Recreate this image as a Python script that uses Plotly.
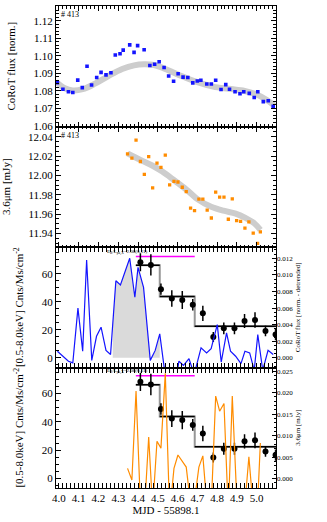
import plotly.graph_objects as go
from plotly.subplots import make_subplots

# panel 1: CoRoT optical light curve
corot_t = [3.992, 4.020, 4.048, 4.070, 4.095, 4.118, 4.142, 4.165, 4.191, 4.213, 4.238, 4.263,
           4.285, 4.309, 4.325, 4.358, 4.380, 4.398, 4.431, 4.460, 4.484, 4.507, 4.532, 4.555,
           4.580, 4.603, 4.628, 4.652, 4.677, 4.700, 4.718, 4.748, 4.771, 4.793, 4.820, 4.844,
           4.863, 4.891, 4.916, 4.935, 4.963, 4.988, 5.006, 5.034, 5.059, 5.084]
corot_flux = [1.0847, 1.0810, 1.0795, 1.0791, 1.0862, 1.0819, 1.0941, 1.0834, 1.0877, 1.0906,
              1.0892, 1.0904, 1.1005, 1.1012, 1.1033, 1.1063, 1.1020, 1.1059, 1.1035, 1.0945,
              1.0952, 1.0967, 1.0934, 1.0885, 1.0855, 1.0898, 1.0879, 1.0877, 1.0846, 1.0857,
              1.0861, 1.0840, 1.0840, 1.0861, 1.0808, 1.0836, 1.0810, 1.0795, 1.0784, 1.0795,
              1.0786, 1.0763, 1.0795, 1.0739, 1.0744, 1.0712]
corot_trend_t = [3.985, 4.03, 4.07, 4.12, 4.18, 4.25, 4.32, 4.38, 4.43, 4.48, 4.55, 4.62,
                 4.70, 4.78, 4.86, 4.94, 5.00, 5.05, 5.09]
corot_trend = [1.0853, 1.0815, 1.0803, 1.0810, 1.0840, 1.0885, 1.0925, 1.0946, 1.0952, 1.0948,
               1.0920, 1.0885, 1.0850, 1.0825, 1.0812, 1.0800, 1.0780, 1.0750, 1.0716]

# panel 2: Spitzer 3.6um
irac_t = [4.347, 4.369, 4.390, 4.412, 4.432, 4.454, 4.474, 4.496, 4.516, 4.538, 4.560, 4.582,
          4.602, 4.624, 4.644, 4.666, 4.686, 4.708, 4.728, 4.750, 4.771, 4.793, 4.813, 4.835,
          4.857, 4.877, 4.899, 4.919, 4.941, 4.961, 4.983, 5.005, 5.019]
irac_flux = [12.0223, 12.0178, 12.0366, 12.0144, 12.0011, 12.0195, 11.9871, 12.0127, 12.0083,
             12.0209, 11.9902, 11.9939, 11.9932, 11.9878, 11.9833, 11.9663, 11.9636, 11.9755,
             11.9755, 11.9642, 11.9560, 11.9827, 11.9775, 11.9775, 11.9547, 11.9758, 11.9533,
             11.9526, 11.9455, 11.9519, 11.9403, 11.9298, 11.9417]
irac_trend_t = [4.347, 4.412, 4.474, 4.521, 4.583, 4.645, 4.708, 4.770, 4.832, 4.894, 4.941,
                4.988, 5.019]
irac_trend = [12.0229, 12.0161, 12.0100, 12.0042, 11.9950, 11.9854, 11.9745, 11.9676, 11.9635,
              11.9605, 11.9564, 11.9506, 11.9437]

# panel 3: detrended CoRoT
det_t = [3.992, 4.020, 4.048, 4.070, 4.096, 4.120, 4.140, 4.166, 4.190, 4.213, 4.238, 4.261,
         4.288, 4.311, 4.331, 4.358, 4.384, 4.400, 4.428, 4.462, 4.487, 4.510, 4.537, 4.555,
         4.580, 4.607, 4.630, 4.658, 4.684, 4.719, 4.747, 4.770, 4.801, 4.821, 4.848, 4.868,
         4.894, 4.921, 4.941, 4.965, 4.988, 5.006, 5.031, 5.058, 5.084]
det_flux = [0.0008, 0.0002, -0.0004, -0.0006, 0.0060, 0.0008, 0.0118, -0.0003, 0.0026, 0.0037,
            0.0009, 0.0004, 0.0093, 0.0088, 0.0102, 0.0120, 0.0073, 0.0109, 0.0085, -0.0003,
            0.0009, 0.0029, -0.0020, -0.0035, -0.0045, -0.0004, -0.0009, -0.0001, -0.0020,
            0.0012, 0.0006, 0.0011, 0.0040, -0.0005, 0.0030, 0.0008, 0.0002, -0.0007, 0.0008,
            0.0006, -0.0015, 0.0028, -0.0015, 0.0009, 0.0004]
flare_t = [4.272, 4.288, 4.311, 4.331, 4.358, 4.384, 4.400, 4.428, 4.462, 4.487, 4.510]
flare_flux = [0.0040, 0.0093, 0.0088, 0.0102, 0.0120, 0.0073, 0.0109, 0.0085, -0.0003, 0.0009, 0.0029]

# panel 4: detrended 3.6um
det_irac = [0.0024, -0.0003, 0.0204, -0.0060, -0.0080, 0.0097, -0.0070, 0.0087, 0.0071, 0.0245,
            -0.0080, 0.0024, 0.0055, 0.0040, 0.0027, -0.0060, -0.0050, 0.0027, 0.0053, -0.0070,
            -0.0060, 0.0192, 0.0157, 0.0175, -0.0080, 0.0192, -0.0040, -0.0040, -0.0060, 0.0051,
            -0.0070, -0.0060, 0.0083]

# X-ray rate and Bayesian blocks
xray_t = [4.412, 4.465, 4.516, 4.571, 4.624, 4.677, 4.728, 4.781, 4.834, 4.888, 4.939, 4.992,
          5.045, 5.096]
xray_rate = [68.3, 66.4, 49.1, 42.4, 41.3, 37.9, 31.8, 14.9, 21.1, 21.1, 26.3, 27.0, 19.2, 16.6]
xray_err = [6.4, 7.6, 4.0, 5.9, 6.4, 4.1, 5.5, 3.6, 4.2, 4.2, 5.0, 5.5, 3.8, 4.0]
block_edges = [4.389, 4.510, 4.687, 5.10]
block_rate = [66.2, 43.9, 22.5]
flare_window = [4.389, 4.687]
flare_level = 72.5
quiescent_level = 18.0

FONT = "Liberation Serif"
BLUE = "rgb(20,20,255)"
ORANGE = "rgb(255,140,0)"

fig = make_subplots(rows=4, cols=1, shared_xaxes=True, vertical_spacing=0,
                    specs=[[{}], [{}], [{"secondary_y": True}], [{"secondary_y": True}]])

fig.add_trace(go.Scatter(x=corot_trend_t, y=corot_trend, mode="lines", line_shape="spline",
                         line=dict(color="rgb(205,205,205)", width=6)), row=1, col=1)
fig.add_trace(go.Scatter(x=corot_t, y=corot_flux, mode="markers",
                         marker=dict(symbol="square", size=3.6, color=BLUE)), row=1, col=1)

fig.add_trace(go.Scatter(x=irac_trend_t, y=irac_trend, mode="lines", line_shape="spline",
                         line=dict(color="rgb(205,205,205)", width=6)), row=2, col=1)
fig.add_trace(go.Scatter(x=irac_t, y=irac_flux, mode="markers",
                         marker=dict(symbol="square", size=3.3, color=ORANGE)), row=2, col=1)


def xray_panel(row, det_x, det_y, color, fill=False):
    if fill:
        fig.add_trace(go.Scatter(x=flare_t, y=flare_flux, mode="lines", fill="tozeroy",
                                 fillcolor="rgb(218,218,218)", line=dict(width=0)),
                      row=row, col=1, secondary_y=True)
    fig.add_trace(go.Scatter(x=det_x, y=det_y, mode="lines", line=dict(color=color, width=1.2)),
                  row=row, col=1, secondary_y=True)
    fig.add_hline(y=0, line=dict(color="rgb(170,170,170)", width=1.5), row=row, col=1)
    fig.add_hline(y=quiescent_level, line=dict(color="rgb(150,150,150)", width=1, dash="dot"),
                  row=row, col=1)
    # grey steps, black block levels
    fig.add_trace(go.Scatter(x=block_edges, y=block_rate + [block_rate[-1]], mode="lines",
                             line_shape="hv", line=dict(color="rgb(150,150,150)", width=2)),
                  row=row, col=1)
    hx, hy = [], []
    for i, r in enumerate(block_rate):
        hx += [block_edges[i], block_edges[i + 1], None]
        hy += [r, r, None]
    fig.add_trace(go.Scatter(x=hx, y=hy, mode="lines", line=dict(color="black", width=1.5)),
                  row=row, col=1)
    fig.add_trace(go.Scatter(x=flare_window, y=[flare_level] * 2, mode="lines",
                             line=dict(color="rgb(255,0,255)", width=1.5)), row=row, col=1)
    fig.add_trace(go.Scatter(x=xray_t, y=xray_rate, mode="markers",
                             marker=dict(size=6, color="black"),
                             error_y=dict(type="data", array=xray_err, color="black",
                                          thickness=1.5, width=0)), row=row, col=1)
    fig.add_annotation(x=4.345, y=75.5, text="E<sub>R</sub>/L<sub>pk,X</sub>=2.08(0.11)",
                       showarrow=False, font=dict(size=5, family=FONT, color="black"),
                       row=row, col=1)


xray_panel(3, det_t, det_flux, BLUE, fill=True)
xray_panel(4, irac_t, det_irac, ORANGE)

for row in (1, 2):
    fig.add_annotation(x=4.0, y=1, xref="x", yref="y domain" if row == 1 else "y2 domain",
                       xanchor="left", yanchor="top", yshift=-2, text="# 413",
                       showarrow=False, font=dict(size=8, family=FONT, color="black"))

axis_common = dict(showline=True, linecolor="black", linewidth=1, ticks="inside", ticklen=5,
                   tickcolor="black", showgrid=False, zeroline=False,
                   tickfont=dict(family=FONT, size=11, color="black"),
                   title_font=dict(family=FONT, size=11, color="black"))

fig.update_xaxes(range=[3.985, 5.098], dtick=0.1, tick0=4.0, tickformat=".1f",
                 mirror="allticks", minor=dict(ticks="inside", ticklen=2.5, dtick=0.02,
                                               tickcolor="black"), **axis_common)
fig.update_xaxes(title_text="MJD - 55898.1", title_standoff=2, row=4, col=1)

fig.update_yaxes(range=[1.0597, 1.1285], dtick=0.01, tickformat=".2f", mirror="allticks",
                 minor=dict(ticks="inside", ticklen=2.5, dtick=0.002, tickcolor="black"),
                 title_text="CoRoT flux [norm.]", row=1, col=1, **axis_common)
fig.update_yaxes(range=[11.926, 12.0506], dtick=0.02, tickformat=".2f", mirror="allticks",
                 minor=dict(ticks="inside", ticklen=2.5, dtick=0.005, tickcolor="black"),
                 title_text="3.6μm [mJy]", row=2, col=1, **axis_common)

ylab = "[0.5-8.0keV] Cnts/Ms/cm<sup>-2</sup>"
for row, rng in ((3, [-6.9, 79.2]), (4, [-6.6, 78.4])):
    fig.update_yaxes(range=rng, dtick=20, mirror=True, title_text=ylab,
                     minor=dict(ticks="inside", ticklen=2.5, dtick=5, tickcolor="black"),
                     row=row, col=1, secondary_y=False, **axis_common)

right_common = dict(showline=False, ticks="inside", ticklen=4, tickcolor="black",
                    showgrid=False, zeroline=False, tickformat=".3f",
                    tickfont=dict(family=FONT, size=7, color="black"),
                    title_font=dict(family=FONT, size=7, color="black"), title_standoff=2)
fig.update_yaxes(range=[-0.00116, 0.01336], dtick=0.002,
                 minor=dict(ticks="inside", ticklen=2, dtick=0.0005, tickcolor="black"),
                 title_text="CoRoT flux [norm. - detrended]", row=3, col=1, secondary_y=True,
                 **right_common)
fig.update_yaxes(range=[-0.00217, 0.02586], dtick=0.005,
                 minor=dict(ticks="inside", ticklen=2, dtick=0.001, tickcolor="black"),
                 title_text="3.6μm [mJy]", row=4, col=1, secondary_y=True, **right_common)

fig.update_layout(width=327, height=522, margin=dict(l=52, r=37, t=5, b=34),
                  showlegend=False, plot_bgcolor="white", paper_bgcolor="white",
                  hovermode=False, font=dict(family=FONT, color="black"))

# drop the browser's default body margin so the figure sits at the window corner
fig.write_html("out.html", config={"displayModeBar": False},
               post_script="document.body.style.margin='0';")
